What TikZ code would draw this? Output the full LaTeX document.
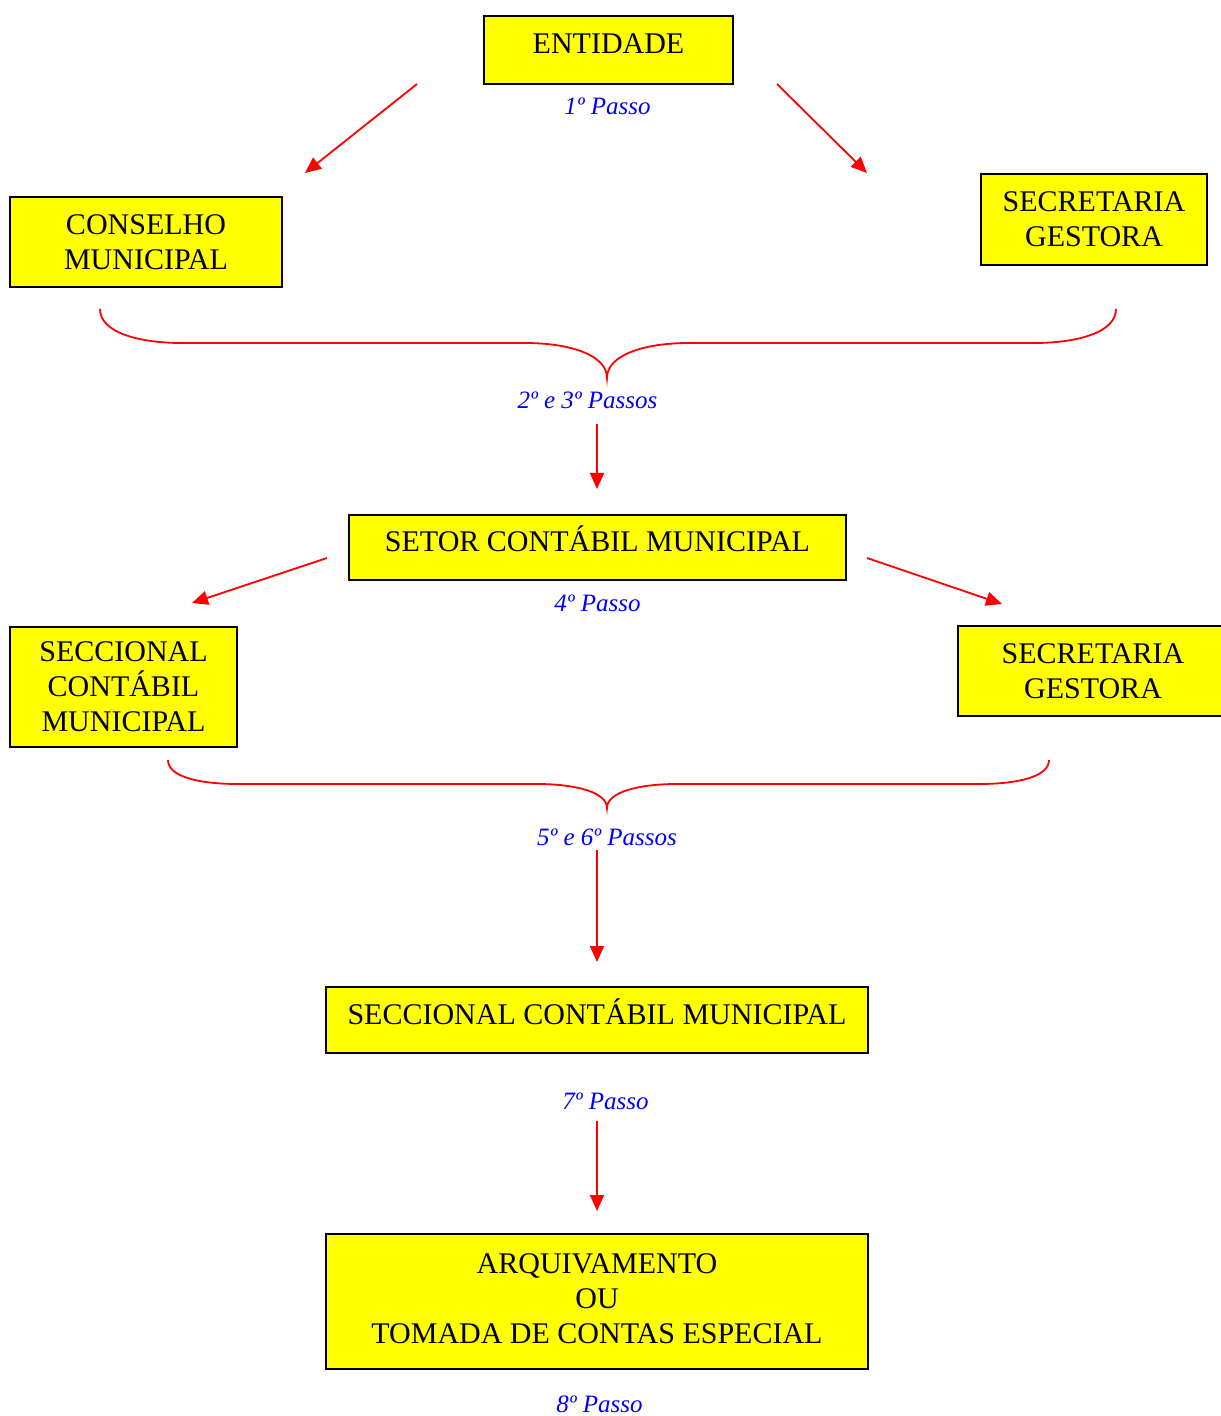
\documentclass[tikz,border=0pt]{standalone}
\usepackage{fontspec}
\setmainfont{Liberation Serif}
\usetikzlibrary{arrows.meta}
\definecolor{boxyellow}{RGB}{255,255,0}
\definecolor{stepred}{RGB}{255,0,0}
\definecolor{stepblue}{RGB}{0,0,255}
\begin{document}
\begin{tikzpicture}[x=0.5pt,y=-0.5pt,
  box/.style={draw=black,line width=1pt,fill=boxyellow,align=center,inner sep=0pt,
    font=\fontsize{15pt}{17.5pt}\selectfont},
  onebox/.style={box,text height=10pt,text depth=6pt},
  steplabel/.style={text=stepblue,inner sep=0pt,font=\fontsize{12.5pt}{15pt}\selectfont\itshape},
  redarrow/.style={draw=stepred,line width=0.9pt,-{Triangle[length=8pt,width=7pt]}},
  bracestyle/.style={draw=stepred,line width=0.9pt}]
\useasboundingbox (0,0) rectangle (1220,1416);

% boxes
\node[onebox,minimum width=124.5pt,minimum height=34pt] (ent) at (608.5,50) {ENTIDADE};
\node[box,minimum width=136pt,minimum height=45pt] (cons) at (146,242) {CONSELHO\\MUNICIPAL};
\node[box,minimum width=113pt,minimum height=45.5pt] (sec1) at (1094,219.5) {SECRETARIA\\GESTORA};
\node[onebox,minimum width=248.5pt,minimum height=32.5pt] (setor) at (597.5,547.5) {SETOR CONTÁBIL MUNICIPAL};
\node[box,minimum width=113.5pt,minimum height=60pt] (secc1) at (123.5,687) {SECCIONAL\\CONTÁBIL\\MUNICIPAL};
\node[box,minimum width=135pt,minimum height=45pt] (sec2) at (1093,671) {SECRETARIA\\GESTORA};
\node[onebox,minimum width=271pt,minimum height=33pt] (secc2) at (597,1020) {SECCIONAL CONTÁBIL MUNICIPAL};
\node[box,minimum width=271pt,minimum height=67.5pt] (arq) at (597,1301.5)
  {\raisebox{2.5pt}{\begin{tabular}{@{}c@{}}ARQUIVAMENTO\\OU\\TOMADA DE CONTAS ESPECIAL\end{tabular}}};

% step labels
\node[steplabel] (l1) at (607.5,106) {1º Passo};
\node[steplabel] (l23) at (587.5,400) {2º e 3º Passos};
\node[steplabel] (l4) at (597.5,603) {4º Passo};
\node[steplabel] (l56) at (607,837) {5º e 6º Passos};
\node[steplabel] (l7) at (605.5,1101) {7º Passo};
\node[steplabel] (l8) at (599.5,1404) {8º Passo};

% arrow end points
\coordinate (a1s) at (417,84);  \coordinate (a1e) at (305,173);
\coordinate (a2s) at (777,84);  \coordinate (a2e) at (867,173);
\coordinate (a3s) at (597,424); \coordinate (a3e) at (597,489);
\coordinate (a4s) at (327,558); \coordinate (a4e) at (192,603);
\coordinate (a5s) at (867,558); \coordinate (a5e) at (1002,604);
\coordinate (a6s) at (597,850); \coordinate (a6e) at (597,962);
\coordinate (a7s) at (597,1121); \coordinate (a7e) at (597,1211);

\draw[redarrow] (a1s) -- (a1e);
\draw[redarrow] (a2s) -- (a2e);
\draw[redarrow] (a3s) -- (a3e);
\draw[redarrow] (a4s) -- (a4e);
\draw[redarrow] (a5s) -- (a5e);
\draw[redarrow] (a6s) -- (a6e);
\draw[redarrow] (a7s) -- (a7e);

% braces
\draw[bracestyle] (100,309) .. controls (100,333) and (140,343) .. (182,343)
  -- (525,343) .. controls (570,343) and (607,355) .. (607,378)
  .. controls (607,355) and (644,343) .. (689,343)
  -- (1034,343) .. controls (1076,343) and (1116,333) .. (1116,309);
\draw[bracestyle] (168,760) .. controls (168,777) and (200,784) .. (238,784)
  -- (537,784) .. controls (575,784) and (607,792) .. (607,808)
  .. controls (607,792) and (639,784) .. (677,784)
  -- (979,784) .. controls (1017,784) and (1049,777) .. (1049,760);
\end{tikzpicture}
\end{document}
